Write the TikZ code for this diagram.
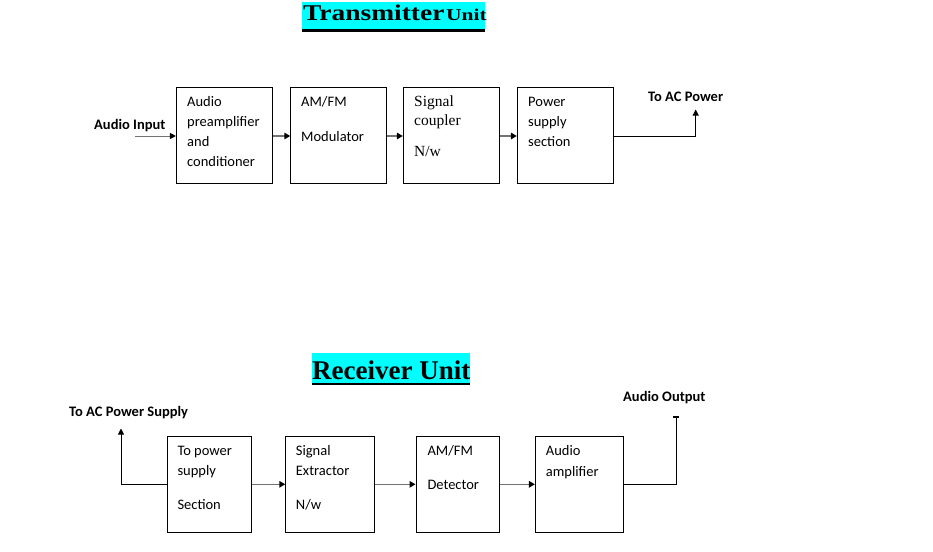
\documentclass[tikz,border=0pt]{standalone}
\usepackage{fontspec}
\setmainfont{Carlito}
\newfontfamily\serifttl{Liberation Serif}
\usetikzlibrary{arrows.meta}
\definecolor{hlcyan}{RGB}{0,255,255}
\tikzset{
  blk/.style={draw=black, line width=0.9pt, minimum width=#1, minimum height=96pt, inner sep=0pt},
  txt/.style={anchor=base west, inner sep=0pt, font=\fontsize{14.5}{16}\selectfont},
  stxt/.style={anchor=base west, inner sep=0pt, font=\serifttl\fontsize{15.5}{16}\selectfont},
  lbl/.style={anchor=base west, inner sep=0pt, font=\bfseries\fontsize{14.5}{16}\selectfont},
  link/.style={draw=black!55, line width=1.6pt, -{Triangle[length=6pt,width=6.5pt,color=black]}},
  feed/.style={draw=black, line width=0.9pt},
  feedarr/.style={draw=black, line width=0.9pt, -{Triangle[length=6pt,width=6pt]}},
}
\begin{document}
\begin{tikzpicture}[x=1pt,y=-1pt]
\useasboundingbox (0,0) rectangle (933,551);
% ---------- Transmitter title
\fill[hlcyan] (302,2) rectangle (485,29.5);
\draw[line width=2.6pt] (302,30.8) -- (485,30.8);
\node[anchor=base west, inner sep=0pt] (ttx) at (303,21) {\serifttl\bfseries\scalebox{1.22}[1]{\fontsize{22.5}{24}\selectfont Transmitter}\,\scalebox{1.3}[1]{\fontsize{16.5}{18}\selectfont Unit}};
% ---------- Transmitter boxes
\node[blk=96pt] (b1) at (224.4,135) {};
\node[blk=96pt] (b2) at (338.7,135) {};
\node[blk=96pt] (b3) at (451.3,135) {};
\node[blk=96pt] (b4) at (565.3,135) {};
\node[txt] (b1a) at (187,106.7) {Audio};
\node[txt] (b1b) at (187,126.7) {preamplifier};
\node[txt] (b1c) at (187,146.7) {and};
\node[txt] (b1d) at (187,166.7) {conditioner};
\node[txt] (b2a) at (301,106.7) {AM/FM};
\node[txt] (b2b) at (301,141) {Modulator};
\node[stxt] (b3a) at (414,106.7) {Signal};
\node[stxt] (b3b) at (414,125.7) {coupler};
\node[stxt] (b3c) at (414,156.7) {N/w};
\node[txt] (b4a) at (528,106.7) {Power};
\node[txt] (b4b) at (528,126.7) {supply};
\node[txt] (b4c) at (528,146.7) {section};
\node[lbl] (ain) at (94,129.3) {Audio Input};
\coordinate (ainS) at (135,136);
\draw[draw=black!55, line width=0.9pt, -{Triangle[length=6pt,width=6pt,color=black]}] (ainS) -- (b1.west|-ainS);
\draw[link] (b1.east|-ainS) -- (b2.west|-ainS);
\draw[link] (b2.east|-ainS) -- (b3.west|-ainS);
\draw[link] (b3.east|-ainS) -- (b4.west|-ainS);
\node[lbl] (acp) at (648,101.7) {To AC Power};
\coordinate (acpT) at (695.7,109.5);
\draw[feedarr] (b4.east|-ainS) -| (acpT);
% ---------- Receiver title
\fill[hlcyan] (312,353) rectangle (470,382.5);
\draw[line width=2.6pt] (312,383.8) -- (470,383.8);
\node[anchor=base west, inner sep=0pt] (trx) at (312,379) {\serifttl\bfseries\fontsize{27}{29}\selectfont Receiver Unit};
% ---------- Receiver boxes
\node[blk=84.4pt] (r1) at (209.5,484.5) {};
\node[blk=88.6pt] (r2) at (330,484.5) {};
\node[blk=83.3pt] (r3) at (457.6,484.5) {};
\node[blk=88pt] (r4) at (579.3,484.5) {};
\node[txt] (r1a) at (177.3,455) {To power};
\node[txt] (r1b) at (177.3,475) {supply};
\node[txt] (r1c) at (177.3,509) {Section};
\node[txt] (r2a) at (295.7,455) {Signal};
\node[txt] (r2b) at (295.7,475.7) {Extractor};
\node[txt] (r2c) at (295.7,509) {N/w};
\node[txt] (r3a) at (427.3,455) {AM/FM};
\node[txt] (r3b) at (427.3,489.3) {Detector};
\node[txt] (r4a) at (545.7,455) {Audio};
\node[txt] (r4b) at (545.7,476) {amplifier};
\coordinate (ry) at (0,484.3);
\draw[link] (r1.east|-ry) -- (r2.west|-ry);
\draw[link] (r2.east|-ry) -- (r3.west|-ry);
\draw[link] (r3.east|-ry) -- (r4.west|-ry);
\node[lbl] (acs) at (69,416.7) {To AC Power Supply};
\coordinate (acsT) at (121,428.5);
\draw[feedarr] (r1.west|-ry) -| (acsT);
\node[lbl] (aout) at (623,401.7) {Audio Output};
\coordinate (aoutT) at (676,416);
\draw[feed, -{Bar[width=6pt,line width=1.8pt]}] (r4.east|-ry) -| (aoutT);
\end{tikzpicture}
\end{document}
